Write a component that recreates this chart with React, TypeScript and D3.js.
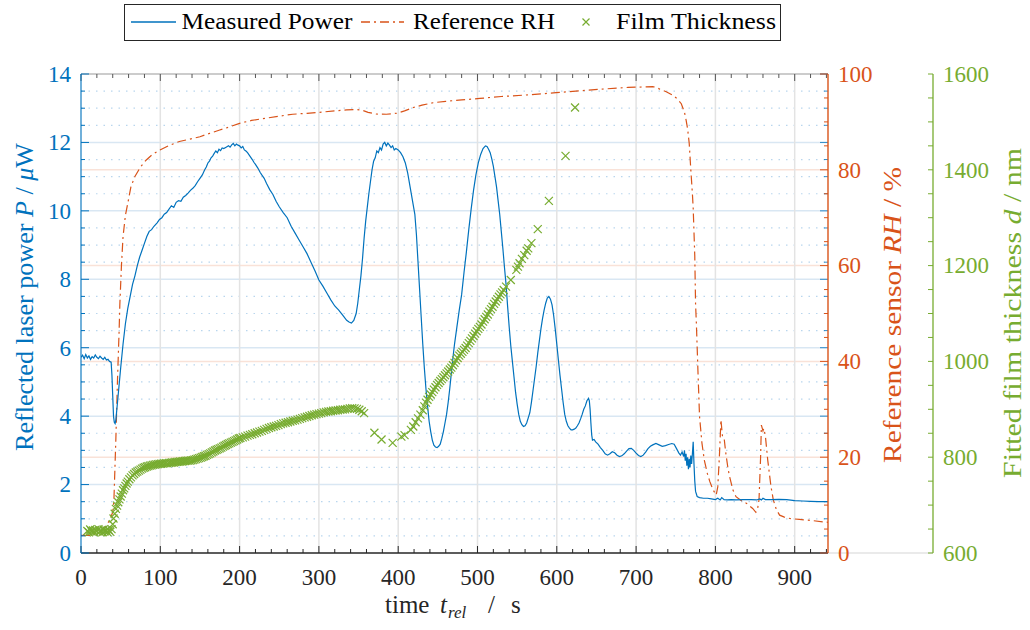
import React from "react";
import * as d3 from "d3";

// ---------- data ----------
const timeTicks = [0, 100, 200, 300, 400, 500, 600, 700, 800, 900];
const powerTicks = [0, 2, 4, 6, 8, 10, 12, 14];
const rhTicks = [0, 20, 40, 60, 80, 100];
const thicknessTicks = [600, 800, 1000, 1200, 1400, 1600];

const legendLabels = ["Measured Power", "Reference RH", "Film Thickness"];

// [time s, P µW]
const measuredPower: [number, number][] = [
  [0, 5.72], [2, 5.78], [4, 5.68], [6, 5.8], [8, 5.7], [10, 5.76], [12, 5.66], [14, 5.74], [16, 5.7], [18, 5.79],
  [20, 5.72], [22, 5.68], [24, 5.75], [26, 5.7], [28, 5.66], [30, 5.72], [32, 5.64], [34, 5.66], [36, 5.6], [38, 5.58],
  [39, 5.2], [40, 4.6], [41, 4.0], [42, 3.82], [43, 3.78], [44, 3.9], [46, 4.4], [48, 4.9], [50, 5.4], [53, 6.1],
  [56, 6.7], [59, 7.15], [62, 7.5], [65, 7.85], [68, 8.1], [71, 8.4], [74, 8.65], [77, 8.85], [80, 9.05], [83, 9.25],
  [86, 9.4], [89, 9.45], [92, 9.55], [96, 9.65], [99, 9.75], [102, 9.8], [105, 9.9], [108, 9.95], [111, 10.05], [114, 10.15],
  [117, 10.1], [120, 10.25], [123, 10.3], [126, 10.28], [129, 10.4], [132, 10.45], [135, 10.52], [138, 10.6], [141, 10.66], [144, 10.74],
  [147, 10.85], [150, 10.95], [153, 11.05], [156, 11.2], [158, 11.28], [160, 11.4], [162, 11.45], [164, 11.55], [166, 11.6], [168, 11.68],
  [170, 11.75], [172, 11.7], [174, 11.8], [176, 11.76], [178, 11.84], [180, 11.82], [183, 11.86], [186, 11.9], [188, 11.86], [190, 11.93],
  [192, 11.97], [194, 11.9], [196, 11.95], [198, 11.92], [200, 11.9], [202, 11.84], [204, 11.88], [206, 11.78], [208, 11.75], [210, 11.7],
  [213, 11.6], [216, 11.5], [218, 11.42], [220, 11.36], [223, 11.25], [226, 11.12], [228, 11.05], [231, 10.95], [234, 10.8], [238, 10.62],
  [242, 10.48], [246, 10.28], [250, 10.12], [255, 9.95], [260, 9.8], [265, 9.55], [270, 9.35], [275, 9.15], [280, 8.95], [285, 8.75],
  [290, 8.5], [295, 8.25], [300, 7.98], [305, 7.8], [310, 7.6], [315, 7.4], [320, 7.22], [325, 7.1], [330, 6.95], [335, 6.8],
  [338, 6.75], [341, 6.72], [344, 6.8], [347, 7.0], [349, 7.3], [351, 7.7], [353, 8.1], [355, 8.6], [357, 9.2], [359, 9.7],
  [361, 10.1], [363, 10.5], [365, 10.85], [367, 11.2], [369, 11.45], [371, 11.55], [373, 11.75], [375, 11.7], [377, 11.85], [379, 11.78],
  [381, 11.95], [383, 12.0], [385, 11.9], [387, 11.98], [389, 11.92], [391, 11.85], [393, 11.9], [395, 11.78], [397, 11.82], [400, 11.78],
  [403, 11.7], [406, 11.58], [409, 11.4], [412, 11.1], [415, 10.7], [418, 10.3], [421, 9.9], [423, 9.3], [425, 8.5], [427, 7.7],
  [429, 6.9], [431, 6.1], [433, 5.4], [435, 4.8], [437, 4.3], [439, 3.85], [441, 3.55], [443, 3.3], [445, 3.15], [447, 3.1],
  [449, 3.08], [451, 3.12], [453, 3.18], [455, 3.35], [457, 3.55], [459, 3.8], [461, 4.05], [463, 4.4], [465, 4.8], [467, 5.25],
  [469, 5.7], [471, 6.1], [474, 6.6], [477, 7.1], [480, 7.55], [483, 8.2], [486, 8.8], [489, 9.45], [492, 10.05], [495, 10.6],
  [498, 11.05], [501, 11.4], [504, 11.65], [507, 11.82], [510, 11.9], [512, 11.88], [514, 11.8], [516, 11.7], [518, 11.52], [520, 11.3],
  [522, 11.0], [524, 10.7], [526, 10.3], [528, 9.9], [530, 9.4], [532, 8.9], [534, 8.35], [536, 7.85], [538, 7.2], [540, 6.6],
  [542, 6.05], [544, 5.6], [546, 5.15], [548, 4.7], [550, 4.35], [552, 4.05], [554, 3.85], [556, 3.75], [558, 3.7], [560, 3.72],
  [562, 3.8], [564, 3.95], [566, 4.1], [568, 4.4], [570, 4.75], [572, 5.1], [574, 5.45], [576, 5.85], [578, 6.2], [580, 6.55],
  [582, 6.85], [584, 7.1], [586, 7.3], [588, 7.45], [590, 7.5], [592, 7.42], [594, 7.25], [596, 6.95], [598, 6.55], [600, 6.1],
  [602, 5.65], [604, 5.2], [606, 4.8], [608, 4.4], [610, 4.05], [612, 3.85], [614, 3.72], [616, 3.65], [618, 3.6], [620, 3.6],
  [622, 3.62], [624, 3.65], [626, 3.72], [628, 3.8], [630, 3.92], [632, 4.05], [634, 4.2], [636, 4.3], [638, 4.45], [640, 4.52],
  [641, 4.45], [642, 4.2], [643, 3.8], [644, 3.45], [645, 3.3], [647, 3.32], [649, 3.25], [652, 3.18], [655, 3.08], [658, 3.0],
  [661, 2.9], [664, 2.86], [667, 2.9], [670, 2.96], [673, 2.93], [676, 2.86], [679, 2.82], [682, 2.84], [685, 2.9], [688, 2.98],
  [691, 3.05], [694, 3.06], [697, 3.0], [700, 2.92], [703, 2.85], [706, 2.82], [709, 2.86], [712, 2.95], [715, 3.05], [718, 3.12],
  [721, 3.16], [725, 3.2], [729, 3.16], [733, 3.12], [737, 3.14], [741, 3.17], [745, 3.2], [748, 3.18], [751, 3.05], [754, 2.92],
  [756, 2.86], [758, 2.95], [760, 2.82], [761, 3.0], [762, 2.7], [763, 2.9], [764, 2.55], [765, 2.8], [766, 2.45], [767, 2.75],
  [768, 2.5], [769, 2.85], [770, 2.6], [771, 2.9], [772, 3.25], [773, 2.6], [774, 2.1], [775, 1.8], [777, 1.65], [780, 1.62],
  [785, 1.6], [790, 1.6], [795, 1.58], [800, 1.56], [803, 1.6], [806, 1.55], [808, 1.62], [811, 1.56], [815, 1.55], [820, 1.56],
  [826, 1.55], [835, 1.56], [845, 1.56], [852, 1.55], [856, 1.58], [858, 1.55], [860, 1.6], [863, 1.56], [870, 1.56], [880, 1.57],
  [890, 1.56], [900, 1.53], [910, 1.52], [920, 1.51], [930, 1.5], [942, 1.5],
];

// [time s, RH %]
const referenceRH: [number, number][] = [
  [0, 3.7], [12, 3.7], [22, 4.2], [30, 5.3], [36, 6.8], [40, 8.5], [41.5, 11], [44, 24], [46, 36], [48, 46],
  [49, 52], [51, 60], [53, 66], [56, 70.5], [59, 73], [63, 76.5], [68, 78.6], [75, 80.6], [82, 82], [90, 83.2],
  [99, 84.1], [110, 85], [124, 85.9], [137, 86.4], [150, 86.9], [162, 87.6], [175, 88.3], [188, 89], [200, 89.7], [215, 90.3],
  [234, 90.8], [250, 91.2], [267, 91.6], [285, 91.8], [301, 92.0], [320, 92.3], [335, 92.5], [347, 92.6], [355, 92.4], [362, 92.0],
  [372, 91.65], [385, 91.6], [398, 91.8], [408, 92.3], [419, 93], [430, 93.5], [444, 94.0], [460, 94.3], [480, 94.6], [503, 94.9],
  [530, 95.3], [560, 95.6], [599, 96.1], [630, 96.5], [662, 96.9], [690, 97.2], [710, 97.3], [721, 97.35], [726, 97.2], [730, 96.8],
  [738, 96.3], [746, 95.6], [752, 94.8], [757, 93.8], [761, 92], [763, 90.4], [765, 88.5], [767, 85.5], [769, 80], [771, 75],
  [772, 72], [774, 62], [775, 52], [776, 48], [778, 38], [780, 28.5], [783, 23], [786, 19.4], [790, 16.5], [793, 14.9],
  [797, 13.2], [801, 12.1], [803, 13.8], [805, 20], [807, 27.8], [808, 26], [809, 24.3], [811, 24], [813, 21], [816, 17.5],
  [818, 15.9], [822, 13.2], [826, 11.75], [832, 11], [839, 10.4], [847, 9.3], [851, 8.5], [853, 9], [855, 11.1], [857, 20],
  [858, 26.7], [860, 25.5], [861, 26], [863, 24.5], [866, 19.4], [870, 14], [873, 11.1], [877, 9], [881, 7.9], [887, 7.5],
  [894, 7.2], [906, 7.0], [923, 6.75], [936, 6.5], [942, 6.4],
];

// [time s, d nm]
const filmThickness: [number, number][] = [
  [8, 646], [10, 643], [11.5, 649], [13, 645], [15, 647], [16.5, 643], [18, 648], [20, 645], [22, 650], [23.5, 644],
  [25, 647], [27, 643], [28.5, 649], [30, 645], [32, 647], [33.5, 643], [35, 648], [37, 644], [38.5, 650], [40, 660],
  [41, 672], [42.5, 682], [44, 692], [45.5, 699], [47, 706], [48.5, 712], [50, 718], [51.5, 724], [53, 731], [54.5, 735],
  [56, 740], [57.5, 745], [59, 749], [61, 754], [63, 758], [65, 762], [67, 765], [69, 768], [71, 770], [73, 772],
  [75, 774], [77, 776], [79, 778], [81, 779], [83, 780.5], [85, 781.5], [87, 782.5], [89, 783], [91, 784], [93, 784.5],
  [95, 785], [97, 785.5], [99, 786], [101, 786.3], [103, 786.5], [105, 787], [107, 787.5], [109, 787], [111, 788], [113, 788.5],
  [115, 789], [117, 789], [119, 790], [121, 790.3], [123, 790.6], [125, 791], [127, 791], [129, 791.5], [131, 792], [133, 792.5],
  [135, 793], [137, 793], [139, 793.5], [141, 794], [143, 795], [145, 796], [147, 797], [149, 798], [151, 799], [153, 800.5],
  [155, 802], [157, 803], [159, 805], [161, 806.5], [163, 808], [165, 810], [167, 812], [169, 814], [171, 815.5], [173, 817],
  [175, 818.5], [177, 820], [179, 822], [181, 824], [183, 825.5], [185, 827.5], [187, 829], [189, 830.5], [191, 832], [193, 833.5],
  [195, 835], [197, 837], [199, 839], [201, 840], [204, 841.5], [207, 843], [210, 845], [213, 846.5], [216, 848], [219, 850],
  [222, 851.5], [225, 853.5], [228, 855], [231, 857], [234, 859], [237, 861], [240, 862.5], [243, 864], [246, 865.5], [249, 867],
  [252, 869], [255, 870.5], [258, 872], [261, 873], [264, 874.5], [267, 876], [270, 877], [273, 878.5], [276, 880], [279, 881.5],
  [282, 883], [285, 884.5], [288, 886], [291, 887.5], [294, 889], [297, 890], [300, 891], [303, 892], [306, 893.5], [309, 894.5],
  [312, 895.5], [315, 896], [318, 897], [321, 897.5], [324, 898], [327, 899], [330, 899.5], [333, 900], [336, 901], [339, 902],
  [342, 902.5], [345, 902], [348, 901], [351, 899], [354, 896], [357, 892],
  [370, 851], [379, 837], [393, 830], [404, 843], [408, 846], [416, 857], [419, 864],
  [422, 873], [425, 881], [428, 889], [431, 898], [433, 906], [435, 914], [437, 920], [439, 926], [441, 931], [443, 936],
  [445, 941], [447, 946], [449, 951], [451, 955], [453, 959], [455, 963], [457, 967], [459, 971], [461, 975], [463, 979],
  [465, 983], [467, 987], [469, 992], [471, 997], [473, 1002], [475, 1007], [477, 1012], [479, 1016], [481, 1020], [483, 1024],
  [485, 1028], [487, 1033], [489, 1038], [491, 1043], [493, 1048], [495, 1053], [497, 1058], [499, 1063], [501, 1068], [503, 1072],
  [505, 1077], [507, 1083], [509, 1088], [511, 1093], [513, 1098], [515, 1104], [517, 1109], [519, 1114], [521, 1120], [523, 1125],
  [525, 1130], [527, 1135], [529, 1140], [531, 1144], [533, 1149], [536, 1156], [542, 1170], [549, 1191], [551, 1198], [553, 1205],
  [556, 1214], [559, 1222], [562, 1231], [564, 1236], [568, 1247], [576, 1276], [590, 1335], [611, 1429], [623, 1530],
];

// ---------- styling ----------
const BLUE = "#0072BD";
const ORANGE = "#D95319";
const GREEN = "#77AC30";
const FONT = "'Liberation Serif', 'Times New Roman', serif";
const DASHDOT = "9,4,2,4";

const L = 81, R = 828, T = 74, B = 553;
const GREEN_AXIS_X = 933;

export default function App() {
  const x = d3.scaleLinear().domain([0, 942]).range([L, R]);
  const yP = d3.scaleLinear().domain([0, 14]).range([B, T]);
  const yRH = d3.scaleLinear().domain([0, 100]).range([B, T]);
  const yD = d3.scaleLinear().domain([600, 1600]).range([B, T]);

  const powerLine = d3.line<[number, number]>().x((d) => x(d[0])).y((d) => yP(d[1]));
  const rhLine = d3.line<[number, number]>().x((d) => x(d[0])).y((d) => yRH(d[1]));

  const xMinor = d3.range(0, 942, 20);
  const pMinor = d3.range(0, 14.001, 0.5);
  const rhMinor = d3.range(0, 100.001, 5);
  const dMinor = d3.range(600, 1600.001, 50);

  const cross = (cx: number, cy: number, s: number) =>
    `M${cx - s},${cy - s}L${cx + s},${cy + s}M${cx - s},${cy + s}L${cx + s},${cy - s}`;

  return (
    <svg width={1030} height={630} style={{ position: "absolute", left: 0, top: 0, background: "#fff", fontFamily: FONT }}>
      <rect x={0} y={0} width={1030} height={630} fill="#fff" />
      <defs>
        <clipPath id="plotClip">
          <rect x={L} y={T} width={R - L} height={B - T} />
        </clipPath>
      </defs>

      {/* grid: minor dotted blue */}
      {pMinor.filter((v) => v % 2 !== 0).map((v) => (
        <line key={"pm" + v} x1={L} x2={R} y1={yP(v)} y2={yP(v)} stroke="#b9d6ee" strokeWidth={1.2} strokeDasharray="1.5,6" />
      ))}
      {/* major blue grid */}
      {powerTicks.slice(1, -1).map((v) => (
        <line key={"pg" + v} x1={L} x2={R} y1={yP(v)} y2={yP(v)} stroke="#d9e7f3" strokeWidth={1.5} />
      ))}
      {/* RH grid */}
      {rhTicks.slice(1, -1).map((v) => (
        <line key={"rg" + v} x1={L} x2={R} y1={yRH(v)} y2={yRH(v)} stroke="#f9e2d8" strokeWidth={1.5} />
      ))}
      {/* vertical grid */}
      {timeTicks.slice(1).map((v) => (
        <line key={"xg" + v} x1={x(v)} x2={x(v)} y1={T} y2={B} stroke="#e3e3e3" strokeWidth={1.5} />
      ))}

      {/* data */}
      <g clipPath="url(#plotClip)">
        <path d={rhLine(referenceRH) || ""} fill="none" stroke={ORANGE} strokeWidth={1.2} strokeDasharray={DASHDOT} />
        <path d={powerLine(measuredPower) || ""} fill="none" stroke={BLUE} strokeWidth={1.2} />
        {filmThickness.map((d, i) => (
          <path key={"ft" + i} d={cross(x(d[0]), yD(d[1]), 4)} stroke={GREEN} strokeWidth={1.2} fill="none" />
        ))}
      </g>

      {/* top axis */}
      <line x1={L} x2={R} y1={T} y2={T} stroke="#9a9a9a" strokeWidth={1.2} />
      {xMinor.map((v) => (
        <line key={"tt" + v} x1={x(v)} x2={x(v)} y1={T} y2={T + (v % 100 === 0 ? 7 : 4)} stroke="#555" strokeWidth={1} />
      ))}
      {/* bottom axis */}
      {xMinor.map((v) => (
        <line key={"bt" + v} x1={x(v)} x2={x(v)} y1={B} y2={B - (v % 100 === 0 ? 7 : 4)} stroke="#262626" strokeWidth={1} />
      ))}
      <line x1={L} x2={R} y1={B} y2={B} stroke="#262626" strokeWidth={1.3} />
      <line x1={R} x2={GREEN_AXIS_X} y1={B} y2={B} stroke="#d6d6d6" strokeWidth={1.2} />
      {timeTicks.map((v) => (
        <text key={"xl" + v} x={x(v)} y={585} fontSize={23} textAnchor="middle" fill="#262626">{v}</text>
      ))}
      <text y={613} fontSize={25} fill="#262626">
        <tspan x={385}>time</tspan>
        <tspan x={440} fontStyle="italic">t</tspan>
        <tspan x={448} dy={5} fontSize={17} fontStyle="italic">rel</tspan>
        <tspan x={488} dy={-5}>/</tspan>
        <tspan x={511}>s</tspan>
      </text>

      {/* left axis */}
      <line x1={L} x2={L} y1={T} y2={B} stroke={BLUE} strokeWidth={1.6} strokeOpacity={0.7} />
      {pMinor.map((v) => (
        <line key={"lt" + v} x1={L} x2={L + (v % 2 === 0 ? 8 : 4)} y1={yP(v)} y2={yP(v)} stroke={BLUE} strokeWidth={1} />
      ))}
      {powerTicks.map((v) => (
        <text key={"pl" + v} x={71} y={yP(v)} dy="0.34em" fontSize={23} textAnchor="end" fill={BLUE}>{v}</text>
      ))}
      <text transform="translate(33,297) rotate(-90)" fontSize={25} textAnchor="middle" fill={BLUE} textLength={308} lengthAdjust="spacingAndGlyphs">
        Reflected laser power <tspan fontStyle="italic">P</tspan> / <tspan fontStyle="italic">μ</tspan>W
      </text>

      {/* right RH axis */}
      {pMinor.map((v) => (
        <line key={"rbt" + v} x1={R} x2={R - (v % 2 === 0 ? 8 : 4)} y1={yP(v)} y2={yP(v)} stroke={BLUE} strokeWidth={1} strokeOpacity={0.8} />
      ))}
      {rhMinor.map((v) => (
        <line key={"rot" + v} x1={R} x2={R - (v % 20 === 0 ? 8 : 4)} y1={yRH(v)} y2={yRH(v)} stroke={ORANGE} strokeWidth={1} />
      ))}
      <line x1={R} x2={R} y1={T} y2={B} stroke={ORANGE} strokeWidth={1.4} />
      {rhTicks.map((v) => (
        <text key={"rl" + v} x={838} y={yRH(v)} dy="0.34em" fontSize={23} textAnchor="start" fill={ORANGE}>{v}</text>
      ))}
      <text transform="translate(901,315) rotate(-90)" fontSize={25} textAnchor="middle" fill={ORANGE} textLength={296} lengthAdjust="spacingAndGlyphs">
        Reference sensor <tspan fontStyle="italic">RH</tspan> / %
      </text>

      {/* green thickness axis */}
      <line x1={GREEN_AXIS_X} x2={GREEN_AXIS_X} y1={T} y2={B} stroke={GREEN} strokeWidth={1.3} />
      {dMinor.map((v) => (
        <line key={"gt" + v} x1={GREEN_AXIS_X} x2={GREEN_AXIS_X - 5} y1={yD(v)} y2={yD(v)} stroke={GREEN} strokeWidth={1} />
      ))}
      {thicknessTicks.map((v) => (
        <text key={"gl" + v} x={943} y={yD(v)} dy="0.34em" fontSize={23} textAnchor="start" fill={GREEN}>{v}</text>
      ))}
      <text transform="translate(1021,313) rotate(-90)" fontSize={25} textAnchor="middle" fill={GREEN} textLength={330} lengthAdjust="spacingAndGlyphs">
        Fitted film thickness <tspan fontStyle="italic">d</tspan> / nm
      </text>

      {/* legend */}
      <rect x={124.5} y={4.5} width={656} height={36} fill="#fff" stroke="#262626" strokeWidth={1} />
      <line x1={131} x2={176} y1={22} y2={22} stroke={BLUE} strokeWidth={1.3} />
      <text x={181.5} y={29} fontSize={23.5} fill="#000" textLength={171} lengthAdjust="spacingAndGlyphs">{legendLabels[0]}</text>
      <line x1={361} x2={404} y1={22} y2={22} stroke={ORANGE} strokeWidth={1.3} strokeDasharray={DASHDOT} />
      <text x={413} y={29} fontSize={23.5} fill="#000" textLength={142} lengthAdjust="spacingAndGlyphs">{legendLabels[1]}</text>
      <path d={cross(586, 22, 3.5)} stroke={GREEN} strokeWidth={1.2} fill="none" />
      <text x={616} y={29} fontSize={23.5} fill="#000" textLength={160} lengthAdjust="spacingAndGlyphs">{legendLabels[2]}</text>
    </svg>
  );
}
